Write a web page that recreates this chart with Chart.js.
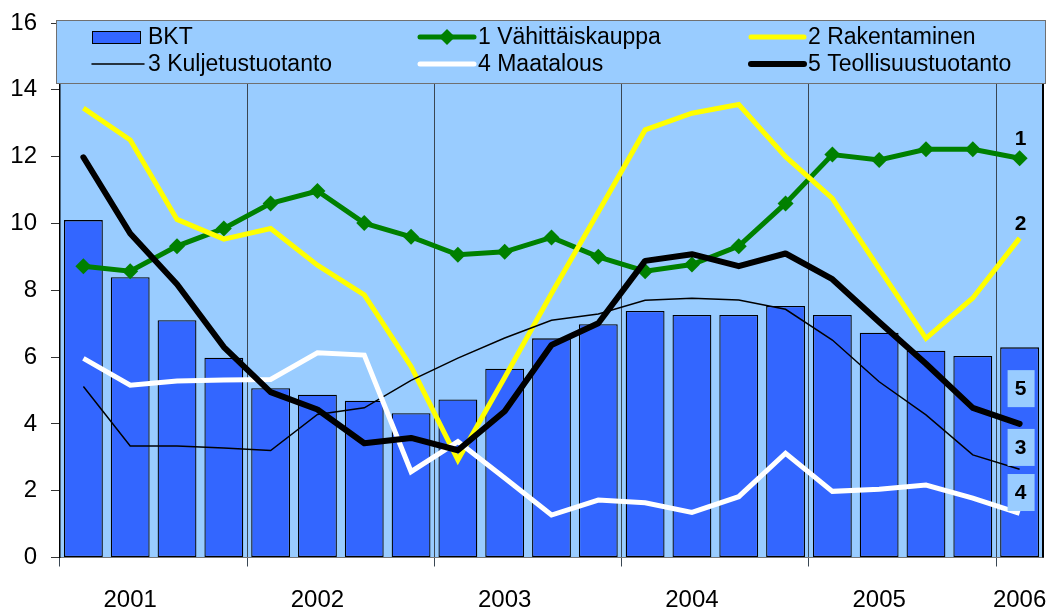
<!DOCTYPE html>
<html>
<head>
<meta charset="utf-8">
<script src="https://cdn.jsdelivr.net/npm/chart.js@4"></script>
<style>
  html, body { margin: 0; padding: 0; background: #fff; }
  #wrap { width: 1051px; height: 610px; position: relative; }
</style>
</head>
<body>
<div id="wrap"><canvas id="c" width="1051" height="610"></canvas></div>
<script>
const quarters = ['2001 Q1','2001 Q2','2001 Q3','2001 Q4','2002 Q1','2002 Q2','2002 Q3','2002 Q4',
  '2003 Q1','2003 Q2','2003 Q3','2003 Q4','2004 Q1','2004 Q2','2004 Q3','2004 Q4',
  '2005 Q1','2005 Q2','2005 Q3','2005 Q4','2006 Q1'];
const tickLabels = ['', '2001', '', '', '', '2002', '', '', '', '2003', '', '', '', '2004', '', '', '', '2005', '', '', '2006'];
const yTicks = [0, 2, 4, 6, 8, 10, 12, 14, 16];

const bkt          = [10.1, 8.39, 7.1, 5.98, 5.07, 4.87, 4.69, 4.32, 4.73, 5.65, 6.56, 6.98, 7.38, 7.26, 7.26, 7.53, 7.26, 6.73, 6.19, 6.03, 6.29];
const vahittais    = [8.72, 8.57, 9.32, 9.85, 10.6, 10.97, 10.01, 9.6, 9.06, 9.15, 9.58, 9.0, 8.57, 8.77, 9.32, 10.6, 12.06, 11.9, 12.22, 12.22, 11.95];
const rakentaminen = [13.45, 12.5, 10.12, 9.53, 9.85, 8.75, 7.86, 5.72, 2.92, 5.39, 7.9, 10.34, 12.8, 13.3, 13.56, 12.0, 10.75, 8.65, 6.56, 7.77, 9.56];
const kuljetus     = [5.12, 3.34, 3.34, 3.28, 3.2, 4.28, 4.48, 5.3, 5.97, 6.57, 7.1, 7.29, 7.7, 7.76, 7.71, 7.43, 6.51, 5.26, 4.27, 3.07, 2.64];
const maatalous    = [5.96, 5.16, 5.28, 5.31, 5.33, 6.13, 6.06, 2.57, 3.47, 2.38, 1.27, 1.72, 1.64, 1.35, 1.82, 3.12, 1.98, 2.04, 2.17, 1.78, 1.32];
const teollisuus   = [11.98, 9.7, 8.18, 6.3, 4.95, 4.43, 3.42, 3.58, 3.21, 4.38, 6.36, 7.01, 8.88, 9.08, 8.72, 9.1, 8.33, 7.05, 5.8, 4.48, 4.0];

const seriesLabels = ['BKT', '1 Vähittäiskauppa', '2 Rakentaminen', '3 Kuljetustuotanto', '4 Maatalous', '5 Teollisuustuotanto'];
// end-of-line markers (text, y value at which it sits, boxed or not)
const endLabels = ['1', '2', '5', '3', '4'];
const endLabelValues = [12.56, 10.01, 5.07, 3.31, 1.96];
const endLabelBoxed = [false, false, true, true, true];

const FONT = "'Liberation Sans', Arial, Helvetica, sans-serif";
const PLOT_BG = '#99CCFF';

const bgPlugin = {
  id: 'bg',
  beforeDraw(chart) {
    const { ctx, chartArea: a } = chart;
    ctx.save();
    ctx.fillStyle = PLOT_BG;
    ctx.fillRect(a.left, a.top, a.right - a.left, a.bottom - a.top);
    ctx.restore();
  },
  afterDraw(chart) {
    const { ctx, chartArea: a } = chart;
    const xs = chart.scales.x, ys = chart.scales.y;
    ctx.save();
    // right frame
    ctx.strokeStyle = '#000';
    ctx.lineWidth = 2;
    ctx.beginPath();
    ctx.moveTo(a.right, a.top);
    ctx.lineTo(a.right, a.bottom);
    ctx.stroke();

    // legend box
    const lx = 56, ly = 20, lw = 989, lh = 63;
    ctx.fillStyle = PLOT_BG;
    ctx.fillRect(lx, ly, lw, lh);
    ctx.strokeStyle = '#707070';
    ctx.lineWidth = 1;
    ctx.strokeRect(lx + 0.5, ly + 0.5, lw, lh);

    const colSym = [92, 420, 751];
    const colText = [148, 478, 808];
    const rowY = [37, 64];
    ctx.font = '23px ' + FONT;
    ctx.textBaseline = 'middle';
    ctx.textAlign = 'left';
    chart.data.datasets.forEach((ds, i) => {
      const col = i % 3, row = Math.floor(i / 3);
      const y = rowY[row];
      const x0 = colSym[col];
      if (ds.type === 'line') {
        const x1 = colText[col] - 4;
        ctx.strokeStyle = ds.borderColor;
        ctx.lineWidth = ds.borderWidth;
        ctx.lineCap = 'round';
        ctx.beginPath();
        ctx.moveTo(x0, y);
        ctx.lineTo(x1, y);
        ctx.stroke();
        if (ds.pointRadius > 0) {
          const cx = (x0 + x1) / 2, r = ds.pointRadius;
          ctx.fillStyle = ds.pointBackgroundColor;
          ctx.beginPath();
          ctx.moveTo(cx, y - r); ctx.lineTo(cx + r, y); ctx.lineTo(cx, y + r); ctx.lineTo(cx - r, y);
          ctx.closePath();
          ctx.fill();
        }
      } else {
        ctx.fillStyle = ds.backgroundColor;
        ctx.fillRect(x0, y - 6, 48, 12);
        ctx.strokeStyle = '#000';
        ctx.lineWidth = 1;
        ctx.strokeRect(x0 + 0.5, y - 6 + 0.5, 48, 12);
      }
      ctx.fillStyle = '#000';
      ctx.fillText(ds.label, colText[col], y + 1);
    });

    // end labels
    const xe = xs.getPixelForValue(quarters.length - 1);
    ctx.font = 'bold 21px ' + FONT;
    ctx.textAlign = 'center';
    endLabels.forEach((t, i) => {
      const y = ys.getPixelForValue(endLabelValues[i]);
      if (endLabelBoxed[i]) {
        ctx.fillStyle = PLOT_BG;
        ctx.fillRect(xe - 12, y - 18, 27, 37);
      }
      ctx.fillStyle = '#000';
      ctx.fillText(t, xe + 1, y + 1);
    });
    ctx.restore();
  }
};

new Chart(document.getElementById('c'), {
  type: 'bar',
  data: {
    labels: quarters,
    datasets: [
      { type: 'bar', label: seriesLabels[0], data: bkt, backgroundColor: '#3366FF', borderColor: '#000', borderWidth: 1.3,
        borderSkipped: false, barPercentage: 0.83, categoryPercentage: 1.0, order: 6 },
      { type: 'line', label: seriesLabels[1], data: vahittais, borderColor: '#008000', borderWidth: 5, tension: 0,
        pointStyle: 'rectRot', pointRadius: 8, pointBackgroundColor: '#008000', pointBorderWidth: 0, pointBorderColor: '#008000', order: 5 },
      { type: 'line', label: seriesLabels[2], data: rakentaminen, borderColor: '#FFFF00', borderWidth: 5, tension: 0, pointRadius: 0, order: 4 },
      { type: 'line', label: seriesLabels[3], data: kuljetus, borderColor: '#000000', borderWidth: 1.5, tension: 0, pointRadius: 0, order: 3 },
      { type: 'line', label: seriesLabels[4], data: maatalous, borderColor: '#FFFFFF', borderWidth: 5, tension: 0, pointRadius: 0, order: 2 },
      { type: 'line', label: seriesLabels[5], data: teollisuus, borderColor: '#000000', borderWidth: 6, tension: 0, pointRadius: 0, order: 1,
        borderCapStyle: 'round', borderJoinStyle: 'round' }
    ]
  },
  options: {
    responsive: false,
    animation: false,
    devicePixelRatio: 1,
    layout: { padding: { top: 23, right: 8, left: 0, bottom: 0 } },
    plugins: { legend: { display: false }, tooltip: { enabled: false } },
    scales: {
      x: {
        offset: true,
        grid: {
          offset: true,
          drawOnChartArea: true,
          drawTicks: true,
          tickLength: 9,
          lineWidth: 1,
          color: (c) => (c.index % 4 === 0 ? '#3a4652' : 'rgba(0,0,0,0)')
        },
        border: { display: true, color: '#777', width: 1 },
        ticks: {
          autoSkip: false, maxRotation: 0, minRotation: 0,
          color: '#000', font: { size: 24, family: FONT }, padding: 19,
          callback: (v, i) => tickLabels[i]
        },
        afterFit: (s) => { s.height = 52.5; s.paddingLeft = 0; s.paddingRight = 0; }
      },
      y: {
        min: 0, max: 16,
        afterBuildTicks: (s) => { s.ticks = yTicks.map(v => ({ value: v })); },
        grid: { drawOnChartArea: false, drawTicks: true, tickLength: 9, color: '#333' },
        border: { display: true, color: '#000', width: 1.5 },
        ticks: { color: '#000', font: { size: 24, family: FONT }, padding: 14 },
        afterFit: (s) => { s.width = 60; s.paddingTop = 0; s.paddingBottom = 0; }
      }
    }
  },
  plugins: [bgPlugin]
});
</script>
</body>
</html>
